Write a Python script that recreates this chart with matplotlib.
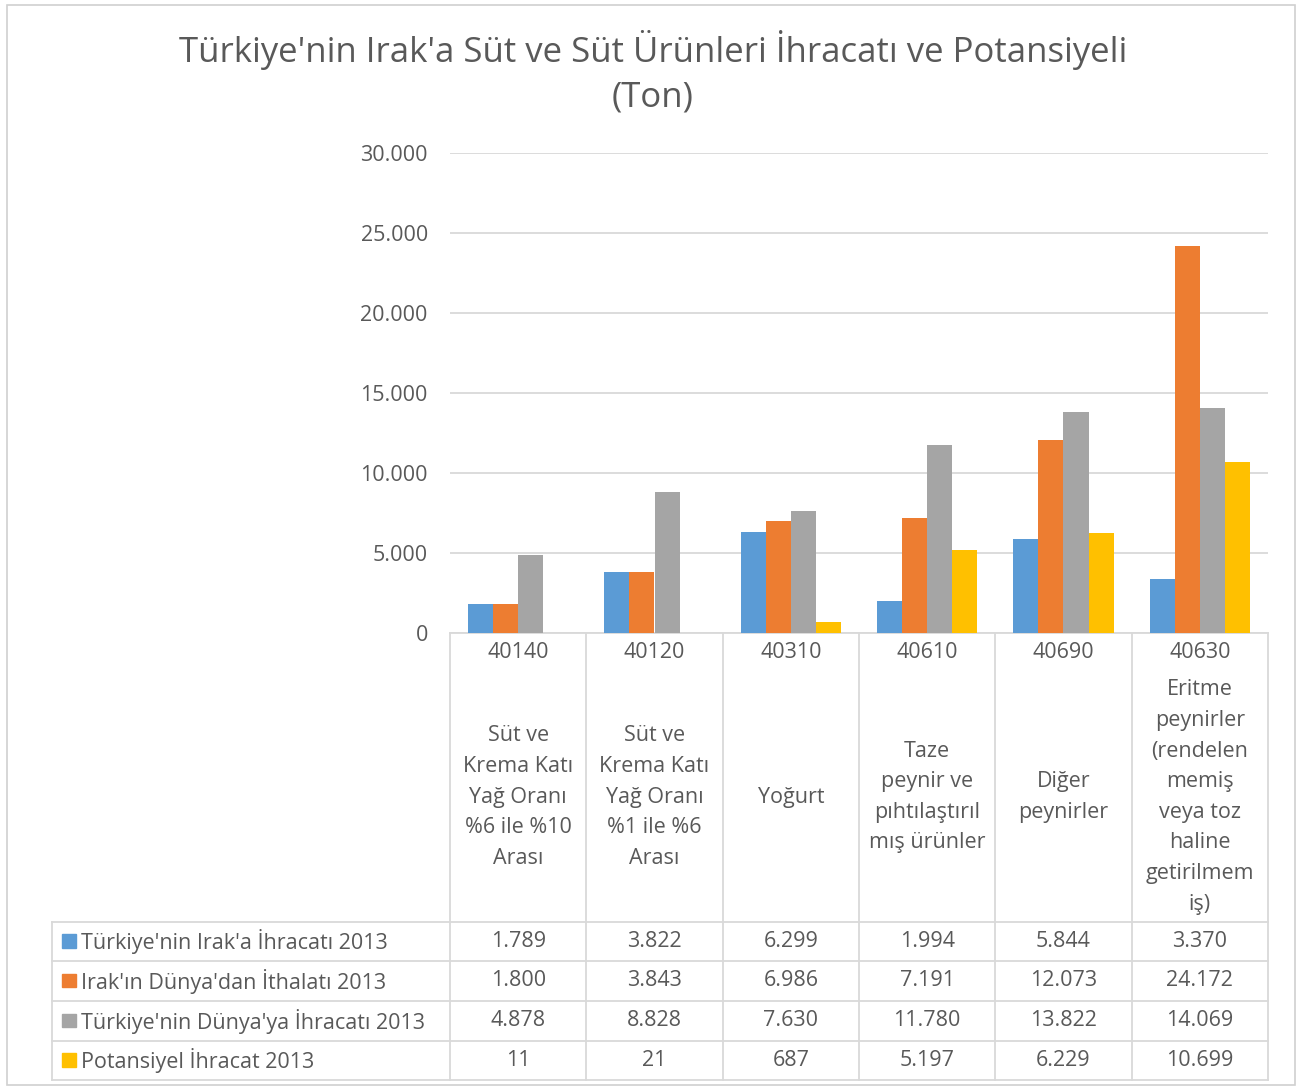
import matplotlib.pyplot as plt
from matplotlib.transforms import blended_transform_factory
from matplotlib.patches import Rectangle
from matplotlib.lines import Line2D

plt.rcParams['font.family'] = ['Open Sans', 'DejaVu Sans']

# data from the chart table
codes = ['40140', '40120', '40310', '40610', '40690', '40630']
names = ['Süt ve\nKrema Katı\nYağ Oranı\n%6 ile %10\nArası',
         'Süt ve\nKrema Katı\nYağ Oranı\n%1 ile %6\nArası',
         'Yoğurt',
         'Taze\npeynir ve\npıhtılaştırıl\nmış ürünler',
         'Diğer\npeynirler',
         'Eritme\npeynirler\n(rendelen\nmemiş\nveya toz\nhaline\ngetirilmem\niş)']
series_names = ["Türkiye'nin Irak'a İhracatı 2013",
                "Irak'ın Dünya'dan İthalatı 2013",
                "Türkiye'nin Dünya'ya İhracatı 2013",
                "Potansiyel İhracat 2013"]
tr_irak = [1789, 3822, 6299, 1994, 5844, 3370]
irak_dunya = [1800, 3843, 6986, 7191, 12073, 24172]
tr_dunya = [4878, 8828, 7630, 11780, 13822, 14069]
potansiyel = [11, 21, 687, 5197, 6229, 10699]
series = [tr_irak, irak_dunya, tr_dunya, potansiyel]
colors = ['#5B9BD5', '#ED7D31', '#A5A5A5', '#FFC000']
yticks = [0, 5000, 10000, 15000, 20000, 25000, 30000]

txt = '#595959'
grid = '#D9D9D9'
fs = 15.5

def fmt(v):
    return f"{v:,}".replace(",", ".")

fig = plt.figure(figsize=(12.97, 10.88), dpi=100)
fig.patches.append(Rectangle((7 / 1297, 3 / 1088), 1288 / 1297, 1080 / 1088,
                             transform=fig.transFigure, fill=False,
                             edgecolor='#D0D0D0', lw=1.2))
ax = fig.add_axes([450 / 1297, 1 - 633 / 1088, 818 / 1297, 480 / 1088])

n = len(codes)
w = 0.184
for i, (vals, c) in enumerate(zip(series, colors)):
    xs = [k + (i - 1.5) * w for k in range(n)]
    ax.bar(xs, vals, width=w, color=c, zorder=3)

ax.set_xlim(-0.5, n - 0.5)
ax.set_ylim(0, 30000)
ax.set_yticks(yticks)
ax.set_yticklabels([fmt(v) for v in yticks], fontsize=fs, color=txt)
ax.tick_params(axis='y', length=0, pad=16)
ax.set_xticks([])
ax.yaxis.grid(True, color=grid, lw=1.3, zorder=0)
for s in ['top', 'right', 'left']:
    ax.spines[s].set_visible(False)
ax.spines['bottom'].set_color(grid)
ax.spines['bottom'].set_linewidth(1.3)

fig.text(653 / 1297, 1 - 50 / 1088,
         "Türkiye'nin Irak'a Süt ve Süt Ürünleri İhracatı ve Potansiyeli",
         ha='center', va='center', fontsize=25, color=txt)
fig.text(653 / 1297, 1 - 98 / 1088, "(Ton)",
         ha='center', va='center', fontsize=25, color=txt)

# data table under the axis
tr = blended_transform_factory(ax.transData, ax.transAxes)

def ay(py):
    return (633 - py) / 480

left_x = -0.5 - 398 / (818 / n)
row_lines = [922, 961, 1001, 1041, 1080]
for py in row_lines:
    ax.add_line(Line2D([left_x, n - 0.5], [ay(py)] * 2, transform=tr,
                       color=grid, lw=1.3, clip_on=False))
for k in range(n + 1):
    ax.add_line(Line2D([k - 0.5] * 2, [0, ay(1080)], transform=tr,
                       color=grid, lw=1.3, clip_on=False))
ax.add_line(Line2D([left_x] * 2, [ay(922), ay(1080)], transform=tr,
                   color=grid, lw=1.3, clip_on=False))

for k in range(n):
    ax.text(k, ay(652), codes[k], transform=tr, ha='center', va='center',
            fontsize=fs, color=txt)
    ax.text(k, ay(797), names[k], transform=tr, ha='center', va='center',
            fontsize=fs, color=txt, linespacing=1.6)

for r, (nm, vals, c) in enumerate(zip(series_names, series, colors)):
    yc = ay((row_lines[r] + row_lines[r + 1]) / 2)
    ax.add_patch(Rectangle((left_x + 10 / 136.3, yc - 0.013), 14 / 136.3, 0.028,
                           transform=tr, color=c, clip_on=False))
    ax.text(left_x + 29 / 136.3, yc, nm, transform=tr, ha='left', va='center',
            fontsize=fs, color=txt)
    for k in range(n):
        ax.text(k, yc, fmt(vals[k]), transform=tr, ha='center', va='center',
                fontsize=fs, color=txt)

fig.savefig('out.png', dpi=100)
